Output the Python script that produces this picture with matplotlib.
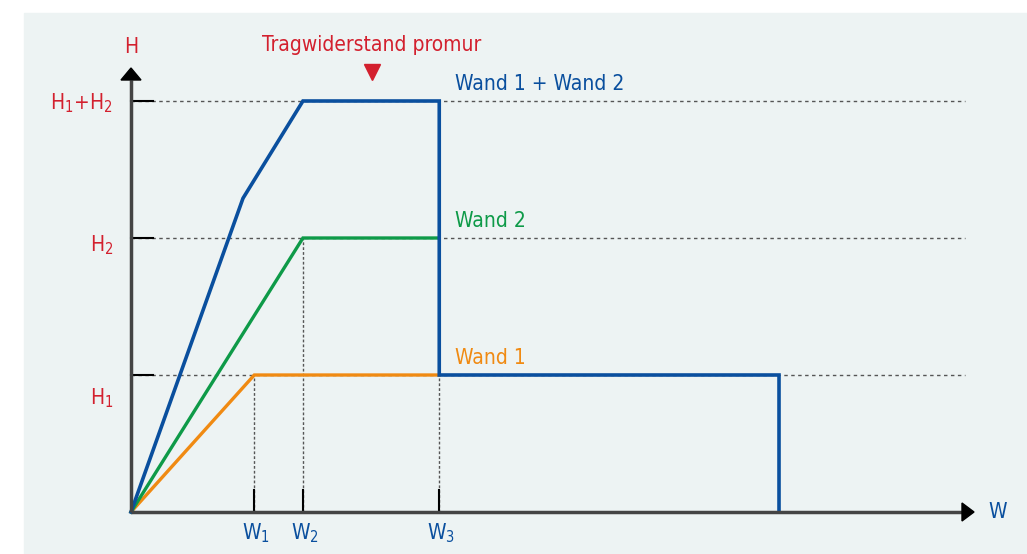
import matplotlib
matplotlib.use("Agg")
import matplotlib.pyplot as plt
from matplotlib.patches import Rectangle, Polygon

# Schema: Tragwiderstand von zwei Wänden (H über W)
plt.rcParams['font.family'] = ['DejaVu Sans']
plt.rcParams['font.stretch'] = 'condensed'
plt.rcParams['mathtext.fontset'] = 'custom'
plt.rcParams['mathtext.rm'] = 'DejaVu Sans:stretch=condensed'

# Werte (W in willkürlichen Einheiten, H in Einheiten von H1)
w_ticks = [1.80, 2.51, 4.50]
w_labels = [r'W$_\mathregular{1}$', r'W$_\mathregular{2}$', r'W$_\mathregular{3}$']
h_ticks = [1, 2, 3]
h_labels = [r'H$_\mathregular{1}$', r'H$_\mathregular{2}$', r'H$_\mathregular{1}$+H$_\mathregular{2}$']

wand1_x = [0, 1.80, 4.50]
wand1_y = [0, 1, 1]
wand2_x = [0, 2.51, 4.50]
wand2_y = [0, 2, 2]
summe_x = [0, 1.635, 2.51, 4.50, 4.50, 9.46, 9.46]
summe_y = [0, 2.29, 3, 3, 1, 1, 0]

blau = '#0a4f9e'
gruen = '#0e9a48'
orange = '#f08a12'
rot = '#d3202e'
achse = '#444444'

fig = plt.figure(figsize=(10.27, 5.54), dpi=100)
fig.patch.set_facecolor('white')
fig.patches.append(Rectangle((24 / 1027, 0), 1 - 24 / 1027, 1 - 13 / 554,
                             transform=fig.transFigure, color='#edf3f3', zorder=-5))

ax = fig.add_axes([0, 0, 1, 1])
ax.set_facecolor('none')
sx, sy = 68.5, 137.0
ax.set_xlim(-131 / sx, (1027 - 131) / sx)
ax.set_ylim(-(554 - 512) / sy, 512 / sy)
ax.axis('off')

x_end = (965 - 131) / sx
# gepunktete Hilfslinien
for h in h_ticks:
    ax.plot([0, x_end], [h, h], color='#555555', lw=1, ls=(0, (2.5, 2.5)), zorder=1)
    ax.plot([0, 22 / sx], [h, h], color='black', lw=1.5, zorder=2)
for w, h in zip(w_ticks, h_ticks):
    ax.plot([w, w], [0, h], color='#555555', lw=1, ls=(0, (2, 1.5)), zorder=1)
    ax.plot([w, w], [0, 22 / sy], color='black', lw=1.5, zorder=2)

# Kurven
ax.plot(wand1_x, wand1_y, color=orange, lw=2.4, zorder=3, solid_joinstyle='miter')
ax.plot(wand2_x, wand2_y, color=gruen, lw=2.4, zorder=3, solid_joinstyle='miter')
ax.plot(summe_x, summe_y, color=blau, lw=2.6, zorder=4, solid_joinstyle='miter')

# Achsen mit Pfeilen
ax.plot([0, (963 - 131) / sx], [0, 0], color=achse, lw=2.5, zorder=5, solid_capstyle='butt')
ax.plot([0, 0], [0, (512 - 80) / sy], color=achse, lw=2.5, zorder=5, solid_capstyle='butt')
ax.add_patch(Polygon([[(962 - 131) / sx, 9 / sy], [(962 - 131) / sx, -9 / sy], [(974 - 131) / sx, 0]],
                     closed=True, color='black', zorder=6))
ax.add_patch(Polygon([[-10 / sx, (512 - 80) / sy], [10 / sx, (512 - 80) / sy], [0, (512 - 68) / sy]],
                     closed=True, color='black', zorder=6))

fs = 15
for h, lab, yy in zip(h_ticks, h_labels, [0.832, 1.949, 2.985]):
    ax.text(-0.263, yy, lab, color=rot, fontsize=fs, ha='right', va='center')
for w, lab in zip(w_ticks, w_labels):
    ax.text(w + 0.03, -0.155, lab, color=blau, fontsize=fs, ha='center', va='center')

ax.text(0, 3.394, 'H', color=rot, fontsize=fs, ha='center', va='center')
ax.text(12.51, 0, 'W', color=blau, fontsize=fs, ha='left', va='center')
ax.text(3.518, 3.409, 'Tragwiderstand promur', color=rot, fontsize=fs, ha='center', va='center')
ax.plot([3.518], [3.212], marker='v', color=rot, markersize=11, zorder=6)

ax.text(4.73, 3.124, 'Wand 1 + Wand 2', color=blau, fontsize=fs, ha='left', va='center')
ax.text(4.73, 2.124, 'Wand 2', color=gruen, fontsize=fs, ha='left', va='center')
ax.text(4.73, 1.124, 'Wand 1', color=orange, fontsize=fs, ha='left', va='center')

fig.savefig('out.png', dpi=100)
